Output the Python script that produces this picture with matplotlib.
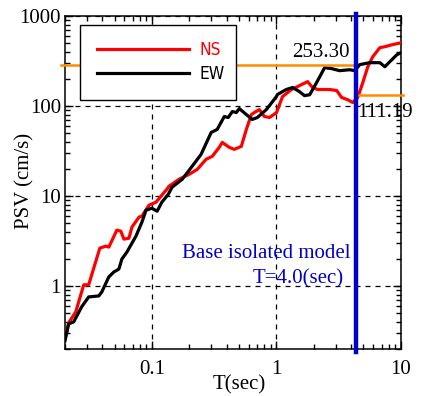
import matplotlib
matplotlib.use('Agg')
import matplotlib.pyplot as plt
from matplotlib import font_manager
from matplotlib.ticker import FuncFormatter, LogLocator, NullFormatter

plt.rcParams['font.family'] = 'Liberation Serif'

# 범례용 좁은 글꼴 (있으면 condensed 사용)
fonts = font_manager.fontManager.ttflist
if any(f.name == 'Liberation Sans Narrow' for f in fonts):
    leg_prop = {'family': 'Liberation Sans Narrow', 'size': 12.5}
elif any(f.name == 'DejaVu Sans' and f.stretch == 'condensed' for f in fonts):
    leg_prop = {'family': 'DejaVu Sans', 'stretch': 'condensed', 'size': 12.5}
else:
    leg_prop = {'family': 'Liberation Sans', 'size': 12.5}

# 응답 스펙트럼 데이터
ns_T = [0.02, 0.0214, 0.0244, 0.0283, 0.031, 0.0381, 0.0426, 0.045, 0.0522, 0.0562,
        0.0595, 0.0653, 0.069, 0.0786, 0.083, 0.0946, 0.1077, 0.118, 0.132, 0.137,
        0.165, 0.199, 0.231, 0.272, 0.305, 0.347, 0.367, 0.418, 0.458, 0.522,
        0.573, 0.629, 0.665, 0.729, 0.80, 0.879, 1.0, 1.12, 1.32, 1.48,
        1.78, 1.95, 2.14, 2.68, 3.05, 3.34, 3.74, 4.10, 4.50, 4.94,
        5.42, 5.94, 6.77, 7.43, 8.46, 10.0]
ns_psv = [0.259, 0.389, 0.515, 1.03, 1.03, 2.63, 2.77, 2.70, 4.17, 4.06,
          3.31, 3.39, 4.50, 5.81, 5.96, 7.89, 8.51, 9.91, 11.9, 12.8,
          15.3, 17.4, 19.7, 25.5, 27.5, 34.6, 39.3, 34.6, 32.9, 35.5,
          54.7, 80.1, 84.4, 91.0, 76.2, 74.3, 84.0, 127, 152, 164,
          186, 160, 152, 152, 148, 124, 117, 109, 124, 181,
          272, 351, 443, 454, 477, 502]

ew_T = [0.02, 0.0214, 0.0235, 0.0272, 0.031, 0.0374, 0.0395, 0.045, 0.0494, 0.0542,
        0.0573, 0.0629, 0.0743, 0.083, 0.0895, 0.0997, 0.110, 0.120, 0.135, 0.145,
        0.175, 0.210, 0.248, 0.299, 0.334, 0.381, 0.410, 0.442, 0.476, 0.503,
        0.573, 0.640, 0.703, 0.830, 1.0, 1.02, 1.20, 1.35, 1.53, 1.68,
        1.85, 2.10, 2.44, 2.78, 3.22, 3.88, 4.26, 4.67, 5.62, 6.77,
        7.43, 8.15, 9.29, 10.0]
ew_psv = [0.246, 0.379, 0.399, 0.585, 0.755, 0.775, 0.857, 1.26, 1.43, 1.54,
          1.99, 2.38, 3.57, 5.11, 6.93, 7.30, 6.76, 8.51, 10.4, 12.5,
          15.3, 21.3, 28.9, 50.7, 54.7, 76.2, 74.3, 86.5, 84.4, 93.3,
          80.1, 70.7, 74.3, 91.0, 127, 134, 152, 160, 144, 130,
          133, 181, 266, 259, 246, 252, 246, 287, 302, 302,
          272, 310, 370, 389]

# 면진 모델 주기와 표시값
iso_T = 4.34
upper_level = 287      # 253.30 표시선 위치
lower_level = 133      # 111.19 표시선 위치
upper_text = '253.30'
lower_text = '111.19'

fig = plt.figure(figsize=(4.22, 3.96), dpi=100)
ax = fig.add_axes([0.154, 0.119, 0.796, 0.841])

ax.plot(ns_T, ns_psv, color='#FF0000', lw=2.3, label='NS', zorder=3)
ax.plot(ew_T, ew_psv, color='black', lw=2.3, label='EW', zorder=3)

# 주황색 기준선
ax.plot([0.0185, iso_T], [upper_level, upper_level], color='#FF8C00', lw=1.8,
        clip_on=False, zorder=4)
ax.plot([iso_T, 10.4], [lower_level, lower_level], color='#FF8C00', lw=1.8,
        clip_on=False, zorder=4)
ax.axvline(iso_T, ymin=-0.01, ymax=1.006, color='#0000CC', lw=3.2, zorder=5,
           clip_on=False)

ax.set_xscale('log')
ax.set_yscale('log')
ax.set_xlim(0.02, 10)
ax.set_ylim(0.2, 1000)

fmt = FuncFormatter(lambda v, p: '{:g}'.format(v))
ax.xaxis.set_major_formatter(fmt)
ax.yaxis.set_major_formatter(fmt)
ax.xaxis.set_minor_formatter(NullFormatter())
ax.yaxis.set_minor_formatter(NullFormatter())
ax.xaxis.set_minor_locator(LogLocator(base=10, subs=range(2, 10)))
ax.yaxis.set_minor_locator(LogLocator(base=10, subs=range(2, 10)))

ax.tick_params(which='both', direction='in', top=True, right=True, labelsize=15,
               width=1.0)
ax.tick_params(which='major', length=6)
ax.tick_params(which='minor', length=3.5)
ax.tick_params(axis='x', which='major', pad=8)
ax.tick_params(axis='y', which='major', pad=3)
for s in ax.spines.values():
    s.set_linewidth(1.1)

ax.grid(True, which='major', color='black', ls=(0, (4, 4)), lw=0.9)

ax.set_xlabel('T(sec)', fontsize=15, va='center')
ax.set_ylabel('PSV (cm/s)', fontsize=15)
ax.xaxis.set_label_coords(0.52, -0.108)
ax.yaxis.set_label_coords(-0.09, 0.505)

ax.text(2.26, 390, upper_text, fontsize=15, ha='center', va='center', zorder=6)
ax.text(7.43, 84, lower_text, fontsize=15, ha='center', va='center', zorder=6)
ax.text(3.95, 2.3, 'Base isolated model', fontsize=15, color='#0000CC',
        ha='right', va='center')
ax.text(3.47, 1.2, 'T=4.0(sec)', fontsize=15, color='#0000CC',
        ha='right', va='center')

leg = ax.legend(loc='upper left', bbox_to_anchor=(0.045, 0.5, 0.464, 0.473),
                mode='expand', borderaxespad=0,
                fancybox=False, framealpha=1, edgecolor='black',
                handlelength=5.35, handletextpad=0.6, labelspacing=0.33,
                borderpad=0.95, prop=leg_prop)
leg.get_frame().set_linewidth(1.0)
leg.set_zorder(7)
for t, c in zip(leg.get_texts(), ['#FF0000', 'black']):
    t.set_color(c)

fig.savefig('out.png', dpi=100)
plt.close()
